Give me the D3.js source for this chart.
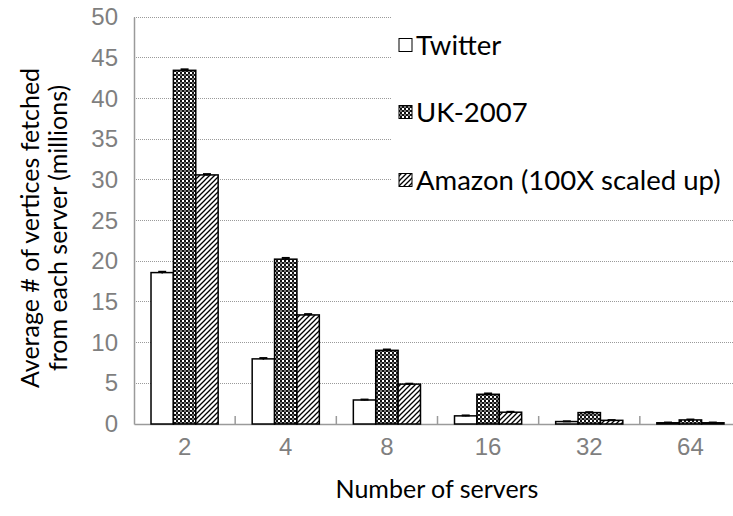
<!DOCTYPE html>
<html>
<head>
<meta charset="utf-8">
<script src="https://cdn.jsdelivr.net/npm/d3@7"></script>
<style>
  html, body { margin: 0; padding: 0; background: #fff; }
  svg { display: block; font-family: Lato, "Open Sans", sans-serif; }
</style>
</head>
<body>
<svg id="chart" width="733" height="516"></svg>
<script>
// Number of servers (x categories)
const servers = ["2", "4", "8", "16", "32", "64"];
// Average vertices fetched from each server, in millions
const twitter = [18.6, 8.0, 2.95, 1.0, 0.3, 0.15];
const uk2007  = [43.45, 20.25, 9.05, 3.65, 1.4, 0.5];
const amazon  = [30.6, 13.4, 4.9, 1.45, 0.45, 0.15];
// Small spread shown as error caps
const twitterErr = [0.1, 0.1, 0.05, 0.05, 0.03, 0.03];
const ukErr      = [0.12, 0.15, 0.1, 0.1, 0.05, 0.05];
const amazonErr  = [0.1, 0.1, 0.05, 0.05, 0.03, 0.03];
const seriesNames = ["Twitter", "UK-2007", "Amazon (100X scaled up)"];
const yTicks = [0, 5, 10, 15, 20, 25, 30, 35, 40, 45, 50];

const series = [
  { name: seriesNames[0], values: twitter, errs: twitterErr, fill: "#fff" },
  { name: seriesNames[1], values: uk2007,  errs: ukErr,      fill: "url(#checker)" },
  { name: seriesNames[2], values: amazon,  errs: amazonErr,  fill: "url(#hatch)" }
];

const svg = d3.select("#chart");
const defs = svg.append("defs");

// Fine checkerboard fill
const checker = defs.append("pattern").attr("id", "checker")
  .attr("patternUnits", "userSpaceOnUse").attr("width", 4).attr("height", 4);
checker.append("rect").attr("width", 4).attr("height", 4).attr("fill", "#fff");
checker.append("rect").attr("x", 0).attr("y", 0).attr("width", 2).attr("height", 2).attr("fill", "#111");
checker.append("rect").attr("x", 2).attr("y", 2).attr("width", 2).attr("height", 2).attr("fill", "#111");
checker.append("rect").attr("x", 0).attr("y", 2).attr("width", 2).attr("height", 2).attr("fill", "#777");

// Diagonal hatching fill
const hatch = defs.append("pattern").attr("id", "hatch")
  .attr("patternUnits", "userSpaceOnUse").attr("width", 5).attr("height", 5);
hatch.append("rect").attr("width", 5).attr("height", 5).attr("fill", "#fff");
hatch.append("path").attr("d", "M-1,6 L6,-1 M-1,1 L1,-1 M4,6 L6,4")
  .attr("stroke", "#000").attr("stroke-width", 1.3);

const plot = { left: 134, right: 741, top: 17, bottom: 424 };

const x = d3.scaleBand().domain(servers).range([plot.left, plot.right]);
const x1 = d3.scaleBand().domain(seriesNames).range([0, x.bandwidth()]).paddingOuter(0.76);
const y = d3.scaleLinear().domain([0, 50]).range([plot.bottom, plot.top]);

// Grid lines
svg.append("g").selectAll("line").data(yTicks.filter(d => d > 0)).join("line")
  .attr("x1", plot.left).attr("x2", 733)
  .attr("y1", d => y(d)).attr("y2", d => y(d))
  .attr("stroke", "#9a9a9a").attr("stroke-width", 1).attr("stroke-dasharray", "1,1")
  .attr("shape-rendering", "crispEdges");

// Y axis
const yAxis = svg.append("g").attr("transform", `translate(${plot.left},0)`)
  .call(d3.axisLeft(y).tickValues(yTicks).tickSize(0).tickPadding(16));
yAxis.select(".domain").attr("stroke", "#9a9a9a").attr("stroke-width", 1.5);
yAxis.selectAll("text").attr("fill", "#7f7f7f").attr("font-size", 24);

// X axis
const xAxis = svg.append("g").attr("transform", `translate(0,${plot.bottom})`)
  .call(d3.axisBottom(x).tickSize(0).tickPadding(14));
xAxis.select(".domain").attr("stroke", "#9a9a9a").attr("stroke-width", 1.5);
xAxis.selectAll("text").attr("fill", "#7f7f7f").attr("font-size", 24);
// Separator ticks between groups
svg.append("g").selectAll("line").data(servers.slice(1)).join("line")
  .attr("x1", d => x(d)).attr("x2", d => x(d))
  .attr("y1", plot.bottom).attr("y2", plot.bottom - 8)
  .attr("stroke", "#9a9a9a").attr("stroke-width", 1.5);

// Bars
const groups = svg.append("g").selectAll("g").data(series).join("g");
groups.selectAll("rect").data(s => s.values.map((v, i) => ({ v, i, s }))).join("rect")
  .attr("x", d => x(servers[d.i]) + x1(d.s.name))
  .attr("width", x1.bandwidth())
  .attr("y", d => y(d.v))
  .attr("height", d => y(0) - y(d.v))
  .attr("fill", d => d.s.fill)
  .attr("stroke", "#000").attr("stroke-width", 1.5);

// Error caps
groups.selectAll("g.err").data(s => s.values.map((v, i) => ({ v, i, s, e: s.errs[i] }))).join("g")
  .attr("class", "err")
  .each(function(d) {
    const cx = x(servers[d.i]) + x1(d.s.name) + x1.bandwidth() / 2;
    const g = d3.select(this);
    g.append("line").attr("x1", cx).attr("x2", cx)
      .attr("y1", y(d.v + d.e)).attr("y2", y(d.v - d.e))
      .attr("stroke", "#000").attr("stroke-width", 1.5);
    g.append("line").attr("x1", cx - 4).attr("x2", cx + 4)
      .attr("y1", y(d.v + d.e)).attr("y2", y(d.v + d.e))
      .attr("stroke", "#000").attr("stroke-width", 2);
  });

// Legend with white backing over the grid
const legend = svg.append("g");
legend.append("rect").attr("x", 392).attr("y", 8).attr("width", 341).attr("height", 196).attr("fill", "#fff");
const rowY = [45, 112, 180];
series.forEach((s, i) => {
  legend.append("rect").attr("x", 399).attr("y", rowY[i] - 6.5).attr("width", 13).attr("height", 13)
    .attr("fill", s.fill).attr("stroke", "#000").attr("stroke-width", 1);
  legend.append("text").attr("x", 416).attr("y", rowY[i]).attr("dy", "0.35em")
    .attr("font-size", 27.5).attr("fill", "#000").text(s.name);
});

// Axis titles
svg.append("text").attr("x", 437).attr("y", 498)
  .attr("text-anchor", "middle").attr("font-size", 25).attr("fill", "#000")
  .text("Number of servers");
const yt = svg.append("text").attr("transform", "translate(0,228) rotate(-90)")
  .attr("text-anchor", "middle").attr("font-size", 25).attr("fill", "#000");
yt.append("tspan").attr("x", 0).attr("y", 39).text("Average # of vertices fetched");
yt.append("tspan").attr("x", 0).attr("y", 67).text("from each server (millions)");
</script>
</body>
</html>
